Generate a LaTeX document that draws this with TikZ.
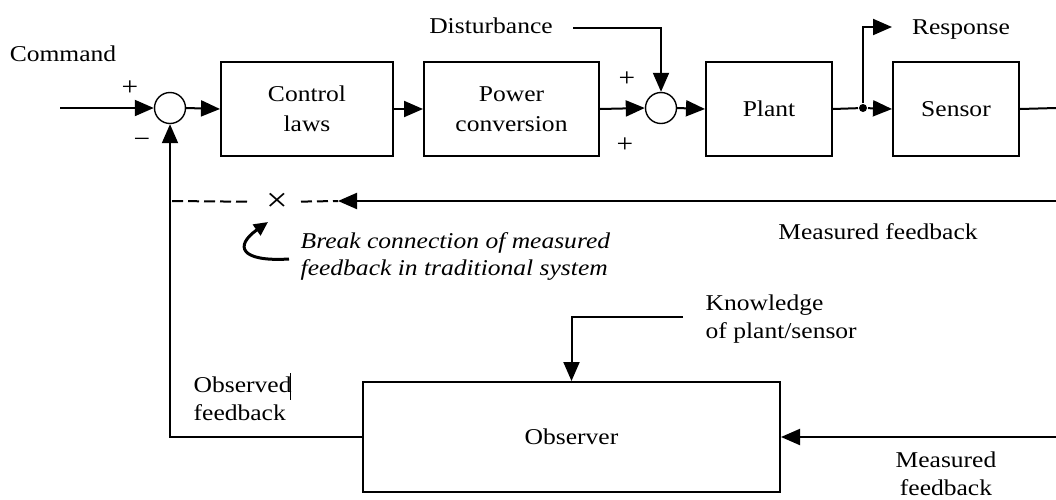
\documentclass[tikz,border=0pt]{standalone}
\usepackage{fontspec}
\setmainfont{Liberation Serif}[FakeStretch=1.13]
\usetikzlibrary{arrows.meta}
\tikzset{
	block/.style={draw,line width=1pt,minimum height=47pt,inner sep=0pt,align=center,font=\fontsize{11.3}{15}\selectfont},
	sumpt/.style={draw,circle,line width=0.7pt,minimum size=15.5pt,inner sep=0pt},
	arr/.style={-{Triangle[length=9.5pt,width=8pt]}},
	brkline/.style={dash pattern=on 5.5pt off 2.5pt}
}
\begin{document}
\begin{tikzpicture}[x=0.5pt,y=-0.5pt,line width=1pt,font=\fontsize{11.3}{14}\selectfont]
	\useasboundingbox (0,0) rectangle (1056,499);

	% Forward path
	\node[sumpt] (sum1) at (170,108) {};
	\node[block,minimum width=86pt] (ctrl) at (307,109) {Control\\laws};
	\node[block,minimum width=87.5pt] (power) at (511.5,109) {Power\\conversion};
	\node[sumpt] (sum2) at (661,108) {};
	\node[block,minimum width=63pt] (plant) at (769,109) {Plant};
	\node[block,minimum width=63pt] (sensor) at (956,109) {Sensor};
	\node[circle,fill,inner sep=0pt,minimum size=4pt] (br) at (863,108) {};

	\coordinate (cin) at (60,108);
	\coordinate (sout) at (1056,108);
	\coordinate (rtip) at (892,27);
	\coordinate (dstart) at (573,28);

	\draw[arr] (cin) -- (sum1.west);
	\draw[arr] (sum1.east) -- (ctrl.west);
	\draw[arr] (ctrl.east) -- (power.west);
	\draw[arr] (power.east) -- (sum2.west);
	\draw[arr] (sum2.east) -- (plant.west);
	\draw (plant.east) -- (br);
	\draw[arr] (br) -- (sensor.west);
	\draw[arr] (br) |- (rtip);
	\draw (sensor.east) -- (sout);
	\draw[arr] (dstart) -| (sum2.north);

	% Signs and labels
	\node (cmd) at (63,54) {Command};
	\node (dist) at (491,26) {Disturbance};
	\node (resp) at (961,30) {Response};
	\node[font=\fontsize{13}{14}\selectfont] (p1) at (130,88) {+};
	\node[font=\fontsize{13}{14}\selectfont] (m1) at (142,143) {−};
	\node[font=\fontsize{13}{14}\selectfont] (p2) at (627,79) {+};
	\node[font=\fontsize{13}{14}\selectfont] (p3) at (625,145) {+};

	% Measured feedback, broken
	\coordinate (mf1) at (1056,201);
	\coordinate (brk) at (338,201);
	\coordinate (fbl) at (171,201);
	\node[inner sep=0pt,font=\fontsize{17}{17}\selectfont] (cross) at (277,202) {×};
	\draw[arr] (mf1) -- (brk);
	\draw[brkline,shorten <=12pt] (cross.center) -- (brk);
	\draw[brkline,shorten <=15pt] (cross.center) -- (fbl);
	\node (mfb1) at (878,232) {Measured feedback};

	\node[align=left,anchor=west,font=\fontsize{11.3}{13.5}\selectfont\itshape] (note) at (293,256)
		{Break connection of measured\\feedback in traditional system};
	\coordinate (hk1) at (289,259);
	\coordinate (hk2) at (268,222);
	\draw[line width=1.5pt,-{Triangle[length=7pt,width=6.5pt]}] (hk1) .. controls (240,262) and (234,246) .. (hk2);

	% Observer
	\node[block,minimum width=208.5pt,minimum height=55pt] (obs) at (571.5,437) {Observer};
	\coordinate (kstart) at (683,317);
	\coordinate (mf2) at (1056,437);
	\draw[arr] (kstart) -| (obs.north);
	\draw[arr] (mf2) -- (obs.east);
	\draw[arr] (obs.west) -| (sum1.south);

	\node[align=left,anchor=west] (know) at (698,319) {Knowledge\\of plant/sensor};
	\node[align=left,anchor=west] (obsfb) at (186,399) {Observed\\feedback};
	\draw[line width=0.4pt] (290,373) -- (290,400);
	\node[align=center] (mfb2) at (946,474) {Measured\\feedback};

\end{tikzpicture}
\end{document}
